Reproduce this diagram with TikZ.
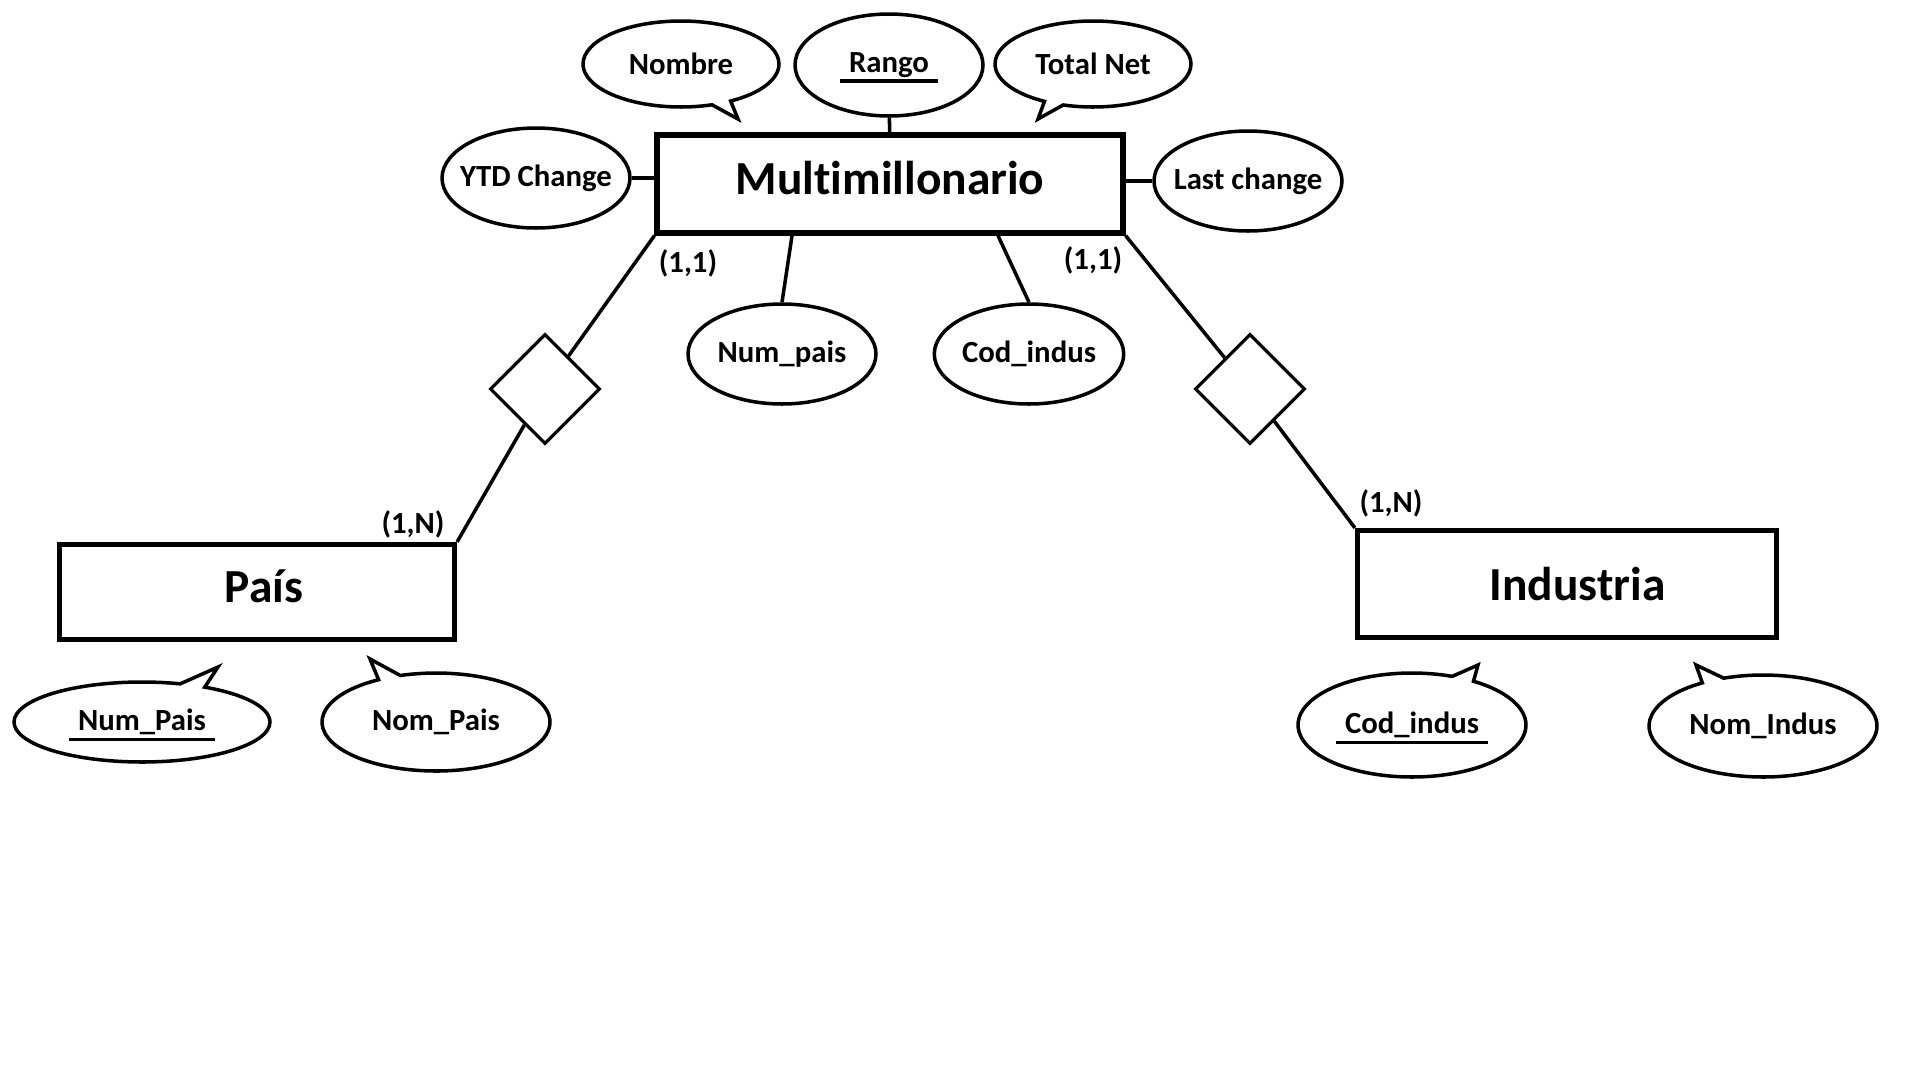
\documentclass[tikz,border=0pt]{standalone}
\usepackage{fontspec}
\setmainfont{Carlito}[Ligatures=NoCommon]
\usetikzlibrary{positioning,shapes.geometric,shapes.callouts,calc}
\newcommand{\attrfont}{\fontsize{17.5}{20}\selectfont\bfseries}
\newcommand{\pk}[1]{\setbox0\hbox{#1}\rlap{\smash{\hspace{-5pt}\rule[-6pt]{\dimexpr\wd0+10pt\relax}{2pt}}}\box0}
\tikzset{
  entity/.style={rectangle, draw, line width=3pt, inner sep=0pt,
                 font=\fontsize{27}{30}\selectfont\bfseries},
  attr/.style  ={ellipse, draw, line width=2pt, inner sep=0pt, font=\attrfont,
                 minimum width=3.76cm, minimum height=2cm},
  bubble/.style={ellipse callout, draw, line width=2pt, inner sep=0pt, font=\attrfont,
                 callout pointer arc=12},
  rel/.style   ={diamond, draw, line width=1.8pt, inner sep=0pt, minimum size=2.2cm},
  card/.style  ={inner sep=0pt, font=\attrfont},
  link/.style  ={line width=2pt},
}
\begin{document}
\begin{tikzpicture}[x=0.02cm, y=-0.02cm]
\useasboundingbox (0,0) rectangle (1920,1080);
% entities
\node[entity, minimum width=9.32cm, minimum height=1.96cm, text depth=6.8pt] (multi) at (890,184) {Multimillonario};
\node[entity, minimum width=7.9cm, minimum height=1.9cm, text depth=6.8pt] (pais) at (257,592) {\hspace*{8pt}País};
\node[entity, minimum width=8.38cm, minimum height=2.14cm] (ind) at (1567,584) {\hspace*{12pt}Industria};
% relationships
\node[rel] (relpais) at (545,389) {};
\node[rel] (relind) at (1250,389) {};
% attributes of Multimillonario
\node[attr, minimum height=2.04cm] (rango) at (889,65) {\pk{Rango}};
\node[attr] (ytd) at (536,178) {\makebox[0pt]{YTD Change}};
\node[attr] (last) at (1248,181) {\makebox[0pt]{Last change}};
\node[attr] (numpais) at (782,354) {Num\_pais};
\node[attr] (codind) at (1029,354) {Cod\_indus};
\coordinate (nombretip) at (738,119);
\coordinate (totaltip) at (1038,119);
\node[bubble, minimum width=3.92cm, minimum height=1.72cm, callout absolute pointer=(nombretip)] (nombre) at (681,64) {Nombre};
\node[bubble, minimum width=3.92cm, minimum height=1.72cm, callout absolute pointer=(totaltip)] (total) at (1093,64) {Total Net};
% attributes of País and Industria
\coordinate (numtip) at (218,667);
\coordinate (nomtip) at (370,659);
\coordinate (codtip) at (1478,665);
\coordinate (nomindtip) at (1696,665);
\node[bubble, minimum width=5.12cm, minimum height=1.6cm, callout absolute pointer=(numtip)] (nump) at (142,722) {\pk{Num\_Pais}};
\node[bubble, minimum width=4.56cm, minimum height=1.96cm, callout absolute pointer=(nomtip)] (nomp) at (436,722) {Nom\_Pais};
\node[bubble, minimum width=4.56cm, minimum height=2.08cm, callout absolute pointer=(codtip)] (codi) at (1412,725) {\pk{Cod\_indus}};
\node[bubble, minimum width=4.56cm, minimum height=2.04cm, callout absolute pointer=(nomindtip)] (nomi) at (1763,726) {Nom\_Indus};
% cardinalities
\node[card] (c11a) at (688,263) {(1,1)};
\node[card] (c11b) at (1093,260) {(1,1)};
\node[card] (c1na) at (413,524) {(1,N)};
\node[card] (c1nb) at (1391,503) {(1,N)};
% links
\draw[link] (rango) -- (multi);
\draw[link] (ytd.east) -- (ytd.east -| multi.west);
\draw[link] (last.west) -- (last.west -| multi.east);
\draw[link] ([xshift=-1.96cm]multi.south) -- (numpais.north);
\draw[link] ([xshift=2.16cm]multi.south) -- (codind.north);
\draw[link] (multi.south west) -- (relpais) -- (pais.north east);
\draw[link] (multi.south east) -- (relind) -- (ind.north west);
\end{tikzpicture}
\end{document}
